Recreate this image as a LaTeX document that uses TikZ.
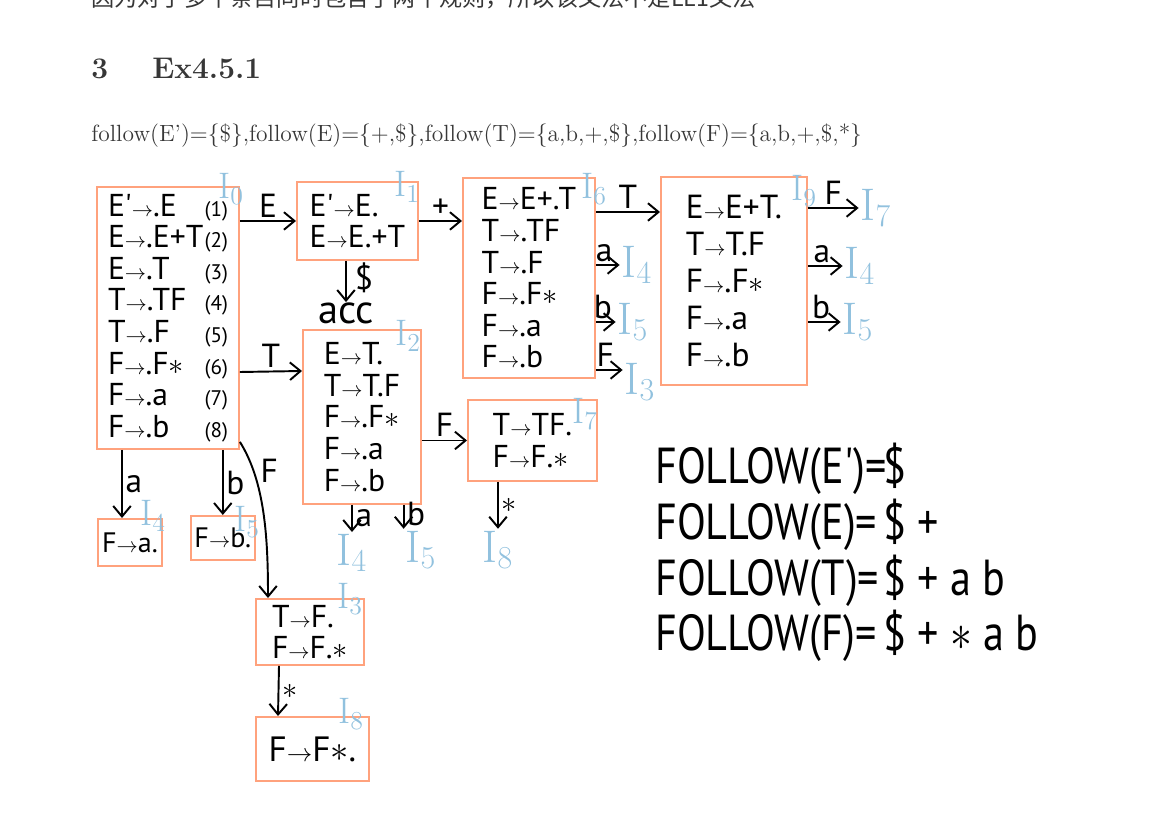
\documentclass[tikz,border=0pt]{standalone}
\usepackage{fontspec}
\usetikzlibrary{arrows.meta,calc,positioning}
\newfontfamily\hand{PT Sans}
\newfontfamily\cjk{Noto Sans CJK SC}
\definecolor{boxline}{RGB}{255,162,125}
\definecolor{tagblue}{RGB}{145,193,222}
\definecolor{textgray}{RGB}{55,55,55}
\newcommand{\yields}{\scalebox{0.7}{$\rightarrow$}}
\newcommand{\st}{$\ast$}
\newcommand{\prodline}[2]{\makebox[55pt][l]{#1}{\fontsize{12}{12}\selectfont(#2)}}
\tikzset{
  box/.style 2 args={draw=boxline, line width=1.1pt, anchor=north west,
    minimum width=#1*0.02cm, minimum height=#2*0.02cm, align=left,
    inner sep=2pt, font=\hand\fontsize{18}{18}\selectfont},
  tag/.style={text=tagblue, inner sep=0pt, font=\rmfamily\fontsize{21}{21}\selectfont},
  goal/.style={text=tagblue, inner sep=1pt, font=\rmfamily\fontsize{26}{26}\selectfont},
  lbl/.style={inner sep=1.5pt, font=\hand\fontsize{19}{19}\selectfont},
  scrawl/.style={inner sep=0pt, font=\hand\fontsize{24}{24}\selectfont},
  goto/.style={->, line width=1.1pt}
}
\begin{document}
\begin{tikzpicture}[>={Straight Barb[length=6pt,width=10pt]}, x=0.02cm, y=-0.02cm]
        \useasboundingbox (0,0) rectangle (1150,828);
        \clip (0,0) rectangle (1150,828);
        % 1. Page text above the sketch
        \node[anchor=base west, inner sep=0pt, text=textgray, font=\cjk\fontsize{13.2}{15}\selectfont] (note) at (91,7) {因为对于多个条目同时包含了两个规则，所以该文法不是LL1文法};
        \node[anchor=base west, inner sep=0pt, text=textgray, font=\bfseries\fontsize{17}{20}\selectfont] (secno) at (91,79) {3};
        \node[anchor=base west, inner sep=0pt, text=textgray, font=\bfseries\fontsize{17}{20}\selectfont] (sectitle) at (152,79) {Ex4.5.1};
        \node[anchor=base west, inner sep=0pt, text=textgray, font=\fontsize{13.35}{15}\selectfont] (followline) at (91,142) {follow(E')=\{\$\},follow(E)=\{+,\$\},follow(T)=\{a,b,+,\$\},follow(F)=\{a,b,+,\$,*\}};
        
        % 2. Item sets
        \node[box={142}{262}] (I0) at (96,186) {\prodline{E'\yields.E}{1}\\ \prodline{E\yields.E+T}{2}\\ \prodline{E\yields.T}{3}\\ \prodline{T\yields.TF}{4}\\ \prodline{T\yields.F}{5}\\ \prodline{F\yields.F\st}{6}\\ \prodline{F\yields.a}{7}\\ \prodline{F\yields.b}{8}};
        \node[box={121}{78}] (I1) at (296,181) {E'\yields E.\\ E\yields E.+T};
        \node[box={132}{200}] (I6) at (462,177) {E\yields E+.T\\ T\yields.TF\\ T\yields.F\\ F\yields.F\st\\ F\yields.a\\ F\yields.b};
        \node[box={146}{208}, font=\hand\fontsize{19}{21}\selectfont] (I9) at (660,176) {E\yields E+T.\\ T\yields T.F\\ F\yields.F\st\\ F\yields.a\\ F\yields.b};
        \node[box={118}{174}] (I2) at (302,329) {E\yields T.\\ T\yields T.F\\ F\yields.F\st\\ F\yields.a\\ F\yields.b};
        \node[box={129}{81}] (I7) at (467,399) {T\yields TF.\\ F\yields F.\st};
        \node[box={64}{47}, font=\hand\fontsize{16}{16}\selectfont] (I4) at (97,518) {F\yields a.};
        \node[box={62}{44}, font=\hand\fontsize{16}{16}\selectfont] (I5) at (190,515) {F\yields b.};
        \node[box={108}{66}] (I3) at (255,598) {T\yields F.\\ F\yields F.\st};
        \node[box={113}{64}, font=\hand\fontsize{20}{20}\selectfont] (I8) at (255,716) {F\yields F\st.};
        
        % 3. Blue names of the sets
        \node[tag] (t0) at (231,189) {I\textsubscript{0}};
        \node[tag] (t1) at (407,187) {I\textsubscript{1}};
        \node[tag] (t6) at (594,189) {I\textsubscript{6}};
        \node[tag] (t9) at (804,191) {I\textsubscript{9}};
        \node[tag] (t2) at (408,336) {I\textsubscript{2}};
        \node[tag] (t7) at (585,414) {I\textsubscript{7}};
        \node[tag] (t4) at (153,516) {I\textsubscript{4}};
        \node[tag] (t5) at (247,522) {I\textsubscript{5}};
        \node[tag] (t3) at (350,599) {I\textsubscript{3}};
        \node[tag] (t8) at (351,714) {I\textsubscript{8}};
        
        % 4. Targets written beside the arrows
        \node[goal] (g6a) at (637,265) {I\textsubscript{4}};
        \node[goal] (g6b) at (633,322) {I\textsubscript{5}};
        \node[goal] (g6F) at (640,382) {I\textsubscript{3}};
        \node[goal] (g9F) at (876,208) {I\textsubscript{7}};
        \node[goal] (g9a) at (860,266) {I\textsubscript{4}};
        \node[goal] (g9b) at (858,322) {I\textsubscript{5}};
        \node[goal] (g2a) at (352,553) {I\textsubscript{4}};
        \node[goal] (g2b) at (421,550) {I\textsubscript{5}};
        \node[goal] (g7s) at (498,550) {I\textsubscript{8}};
        \node[scrawl, font=\hand\fontsize{23}{23}\selectfont] (acc) at (346,313) {acc};
        
        % 5. Transitions
        \draw[goto] (I0.east |- I1.west) -- (I1.west) node[lbl, midway, above] {E};
        \draw[goto] (I1.east) -- (I6.west |- I1.east) node[lbl, midway, above] {+};
        \draw[goto] ($(I0.north east)+(0,186)$) -- ($(I2.north west)+(0,42)$) node[lbl, midway, above] {T};
        \draw[goto] (I1.south -| acc.north) -- (acc.north) node[lbl, pos=0.4, right=3pt] {\$};
        \draw[goto] (I2.east |- I7.west) -- (I7.west) node[lbl, midway, above] {F};
        \draw[goto] ($(I6.north east)+(0,35)$) -- ($(I9.north west)+(0,36)$) node[lbl, midway, above] {T};
        \draw[goto] (I6.east |- g6a.west) -- (g6a.west) node[lbl, pos=0.35, above] {a};
        \draw[goto] (I6.east |- g6b.west) -- (g6b.west) node[lbl, pos=0.35, above] {b};
        \draw[goto] ($(I6.east |- g6F.west)+(0,-12)$) -- ($(g6F.west)+(0,-12)$) node[lbl, pos=0.35, above] {F};
        \draw[goto] (I9.east |- g9F.west) -- (g9F.west) node[lbl, midway, above] {F};
        \draw[goto] (I9.east |- g9a.west) -- (g9a.west) node[lbl, pos=0.4, above] {a};
        \draw[goto] (I9.east |- g9b.west) -- (g9b.west) node[lbl, pos=0.4, above] {b};
        \draw[goto] ($(I0.south west)+(26,0)$) -- ($(I4.north west)+(25,0)$) node[lbl, midway, right] {a};
        \draw[goto] (I5.north |- I0.south) -- (I5.north) node[lbl, midway, right] {b};
        \draw[goto] ($(I0.south east)+(0,-8)$) .. controls +(25,40) and +(0,-60) .. ($(I3.north west)+(13,0)$) node[lbl, pos=0.22, right=2pt] {F};
        \draw[goto] (I2.south -| g2a.north) -- (g2a.north) node[lbl, midway, right] {a};
        \draw[goto] (I2.south -| g2b.north west) -- (g2b.north west) node[lbl, pos=0.4, right] {b};
        \draw[goto] (I7.south -| g7s.north) -- (g7s.north) node[lbl, midway, right] {\st};
        \draw[goto] ($(I3.south west)+(24,0)$) -- ($(I8.north west)+(23,0)$) node[lbl, midway, right] {\st};
        
        % 6. Follow sets written by hand
        \node[scrawl, anchor=base west] (fEp) at (655,483) {\scalebox{1}[1.2]{\makebox[130pt][l]{FOLLOW(E')=}\$}};
        \node[scrawl, anchor=base west] (fE) at (655,539) {\scalebox{1}[1.2]{\makebox[130pt][l]{FOLLOW(E)=}\$ +}};
        \node[scrawl, anchor=base west] (fT) at (655,595) {\scalebox{1}[1.2]{\makebox[130pt][l]{FOLLOW(T)=}\$ + a b}};
        \node[scrawl, anchor=base west] (fF) at (655,650) {\scalebox{1}[1.2]{\makebox[130pt][l]{FOLLOW(F)=}\$ + \st{} a b}};
        
    \end{tikzpicture}
\end{document}
